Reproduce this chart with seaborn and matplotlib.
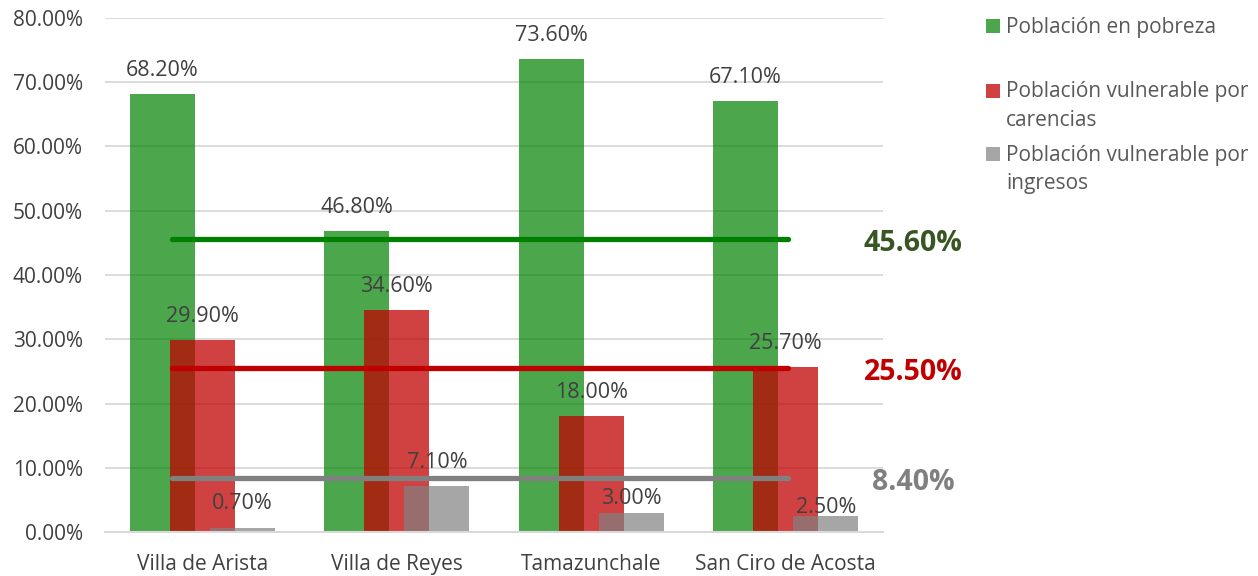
import numpy as np
import pandas as pd
import seaborn as sns
import matplotlib.pyplot as plt
from matplotlib.patches import Rectangle
from matplotlib.transforms import blended_transform_factory

# Data
municipios = ["Villa de Arista", "Villa de Reyes", "Tamazunchale", "San Ciro de Acosta"]
pobreza = [68.2, 46.8, 73.6, 67.1]
vuln_carencias = [29.9, 34.6, 18.0, 25.7]
vuln_ingresos = [0.7, 7.1, 3.0, 2.5]
series_names = ["Población en pobreza", "Población vulnerable por\ncarencias",
                "Población vulnerable por\ningresos"]
promedios = [45.6, 25.5, 8.4]

sns.set_theme(style="white")
plt.rcParams['font.family'] = ['Open Sans', 'DejaVu Sans']

W, H = 1258, 576
fig = plt.figure(figsize=(W / 100, H / 100), dpi=100)
ax = fig.add_axes([105 / W, 1 - 532 / H, 778 / W, 514 / H])

colors = ["#008000", "#C00000", "#808080"]
alphas = [0.7, 0.74, 0.7]
offsets = [-0.206, 0.0, 0.206]
label_colors = ["#375623", "#C00000", "#808080"]
# vertical offset (points) of each value label above its bar
label_pads = [[17, 17, 17, 17], [17, 17, 17, 17], [17, 17, 10, 6]]

for vals, color, alpha, off, pads in zip([pobreza, vuln_carencias, vuln_ingresos],
                                          colors, alphas, offsets, label_pads):
    df = pd.DataFrame({"x": np.arange(len(municipios)) + off, "y": vals})
    sns.barplot(data=df, x="x", y="y", native_scale=True, width=0.334, color=color,
                alpha=alpha, saturation=1, errorbar=None, linewidth=0, ax=ax, zorder=2)
    for xi, v, p in zip(df["x"], vals, pads):
        ax.annotate(f"{v:.2f}%", (xi, v), xytext=(0, p), textcoords="offset points",
                    ha="center", va="center", fontsize=15.5, color="#404040", zorder=5)

# average lines
trans = blended_transform_factory(ax.transAxes, ax.transData)
for avg, color, lc in zip(promedios, colors, label_colors):
    ax.plot([-0.157, 3.01], [avg, avg], color=color, lw=3.8, solid_capstyle="round", zorder=4)
    ax.text(1.0386, avg - 0.7, f"{avg:.2f}%", transform=trans, ha="center", va="center",
            fontsize=20.5, fontweight="bold", color=lc)

ax.set_xlim(-0.5, 3.5)
ax.set_ylim(0, 80)
ax.set_yticks(np.arange(0, 81, 10))
ax.set_yticklabels([f"{t:.2f}%" for t in np.arange(0, 81, 10)], fontsize=15, color="#404040")
ax.set_xticks(range(len(municipios)))
ax.set_xticklabels(municipios, fontsize=15, color="#404040")
ax.set_xlabel("")
ax.set_ylabel("")
ax.tick_params(axis="x", length=0, pad=16)
ax.tick_params(axis="y", length=0, pad=16)
ax.grid(axis="y", color="#D9D9D9", lw=1.3, zorder=0)
ax.set_axisbelow(True)
for s in ["left", "right", "top"]:
    ax.spines[s].set_visible(False)
ax.spines["bottom"].set_color("#D9D9D9")
ax.spines["bottom"].set_linewidth(1.5)

# legend, laid out like the original (marker beside the first line of each entry)
legend_y = [26, 91, 154]
for name, color, alpha, ly in zip(series_names, colors, alphas, legend_y):
    fig.patches.append(Rectangle((986 / W, 1 - (ly + 7) / H), 14 / W, 14 / H,
                                 transform=fig.transFigure, facecolor=color, alpha=alpha,
                                 edgecolor="none"))
    for i, line in enumerate(name.split("\n")):
        fig.text(1006 / W, 1 - (ly + 1 + i * 29) / H, line, ha="left", va="center",
                 fontsize=15, color="#595959")

fig.savefig("out.png", dpi=100)
